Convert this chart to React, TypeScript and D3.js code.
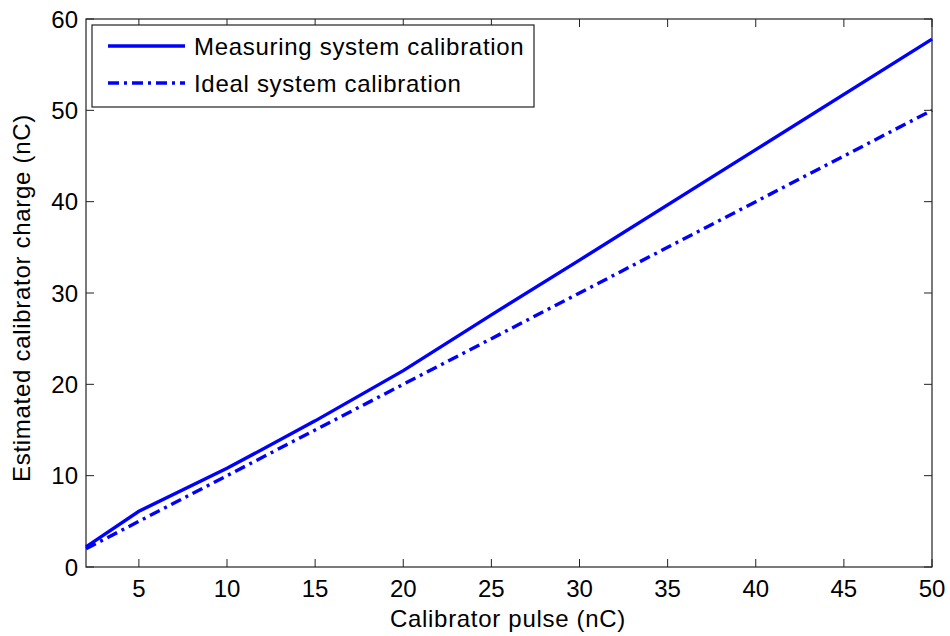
import { useEffect, useRef } from 'react';
import * as d3 from 'd3';

const pulse = [2, 5, 10, 15, 20, 25, 30, 40, 50];
const measured = [2.2, 6.1, 10.8, 16.0, 21.5, 27.6, 33.6, 45.7, 57.8];
const ideal = [2, 5, 10, 15, 20, 25, 30, 40, 50];
const xTicks = [5, 10, 15, 20, 25, 30, 35, 40, 45, 50];
const yTicks = [0, 10, 20, 30, 40, 50, 60];
const seriesNames = ['Measuring system calibration', 'Ideal system calibration'];

export default function App() {
  const ref = useRef<SVGSVGElement>(null);

  useEffect(() => {
    if (!ref.current) return;
    document.body.style.margin = '0';
    const svg = d3.select(ref.current);
    svg.selectAll('*').remove();

    const width = 950;
    const height = 636;
    const left = 86, right = 932, top = 19, bottom = 567;
    const font = 'Liberation Sans, Arial, Helvetica, sans-serif';
    const fs = '24px';
    const ls = '0.7px';

    const x = d3.scaleLinear().domain([2, 50]).range([left, right]);
    const y = d3.scaleLinear().domain([0, 60]).range([bottom, top]);

    svg.attr('width', width).attr('height', height)
      .style('display', 'block')
      .style('background', '#fff');

    // box
    svg.append('rect')
      .attr('x', left).attr('y', top)
      .attr('width', right - left).attr('height', bottom - top)
      .attr('fill', '#fff').attr('stroke', '#222').attr('stroke-width', 1.2);

    const tickLen = 8;
    const g = svg.append('g').attr('stroke', '#222').attr('stroke-width', 1);
    xTicks.forEach(t => {
      g.append('line').attr('x1', x(t)).attr('x2', x(t)).attr('y1', bottom).attr('y2', bottom - tickLen);
      g.append('line').attr('x1', x(t)).attr('x2', x(t)).attr('y1', top).attr('y2', top + tickLen);
    });
    yTicks.forEach(t => {
      g.append('line').attr('x1', left).attr('x2', left + tickLen).attr('y1', y(t)).attr('y2', y(t));
      g.append('line').attr('x1', right).attr('x2', right - tickLen).attr('y1', y(t)).attr('y2', y(t));
    });

    svg.append('g').selectAll('text').data(xTicks).join('text')
      .attr('x', d => x(d)).attr('y', 597)
      .attr('text-anchor', 'middle')
      .style('font-family', font).style('font-size', fs).attr('fill', '#000')
      .text(d => d);

    svg.append('g').selectAll('text').data(yTicks).join('text')
      .attr('x', left - 8).attr('y', d => y(d) + 8.5)
      .attr('text-anchor', 'end')
      .style('font-family', font).style('font-size', fs).attr('fill', '#000')
      .text(d => d);

    svg.append('text')
      .attr('x', 508).attr('y', 627)
      .attr('text-anchor', 'middle')
      .style('font-family', font).style('font-size', fs).style('letter-spacing', ls)
      .text('Calibrator pulse (nC)');

    svg.append('text')
      .attr('transform', `translate(30,298) rotate(-90)`)
      .attr('text-anchor', 'middle')
      .style('font-family', font).style('font-size', fs).style('letter-spacing', ls)
      .text('Estimated calibrator charge (nC)');

    const line = d3.line<number>()
      .x((_, i) => x(pulse[i]))
      .y(d => y(d));

    const dash = '11,5,3,5';

    svg.append('path').datum(measured)
      .attr('d', line).attr('fill', 'none')
      .attr('stroke', '#0000ff').attr('stroke-width', 3.4);

    svg.append('path').datum(ideal)
      .attr('d', line).attr('fill', 'none')
      .attr('stroke', '#0000ff').attr('stroke-width', 3.4)
      .attr('stroke-dasharray', dash);

    // legend
    const lg = svg.append('g');
    lg.append('rect')
      .attr('x', 92).attr('y', 25).attr('width', 442).attr('height', 82)
      .attr('fill', '#fff').attr('stroke', '#222').attr('stroke-width', 1.2);
    seriesNames.forEach((name, i) => {
      const yy = 46 + i * 37;
      lg.append('line')
        .attr('x1', 108).attr('x2', 185).attr('y1', yy).attr('y2', yy)
        .attr('stroke', '#0000ff').attr('stroke-width', 3.4)
        .attr('stroke-dasharray', i === 1 ? dash : null);
      lg.append('text')
        .attr('x', 194).attr('y', yy + 8.5)
        .style('font-family', font).style('font-size', fs).style('letter-spacing', ls)
        .text(name);
    });
  }, []);

  return <svg ref={ref}></svg>;
}
